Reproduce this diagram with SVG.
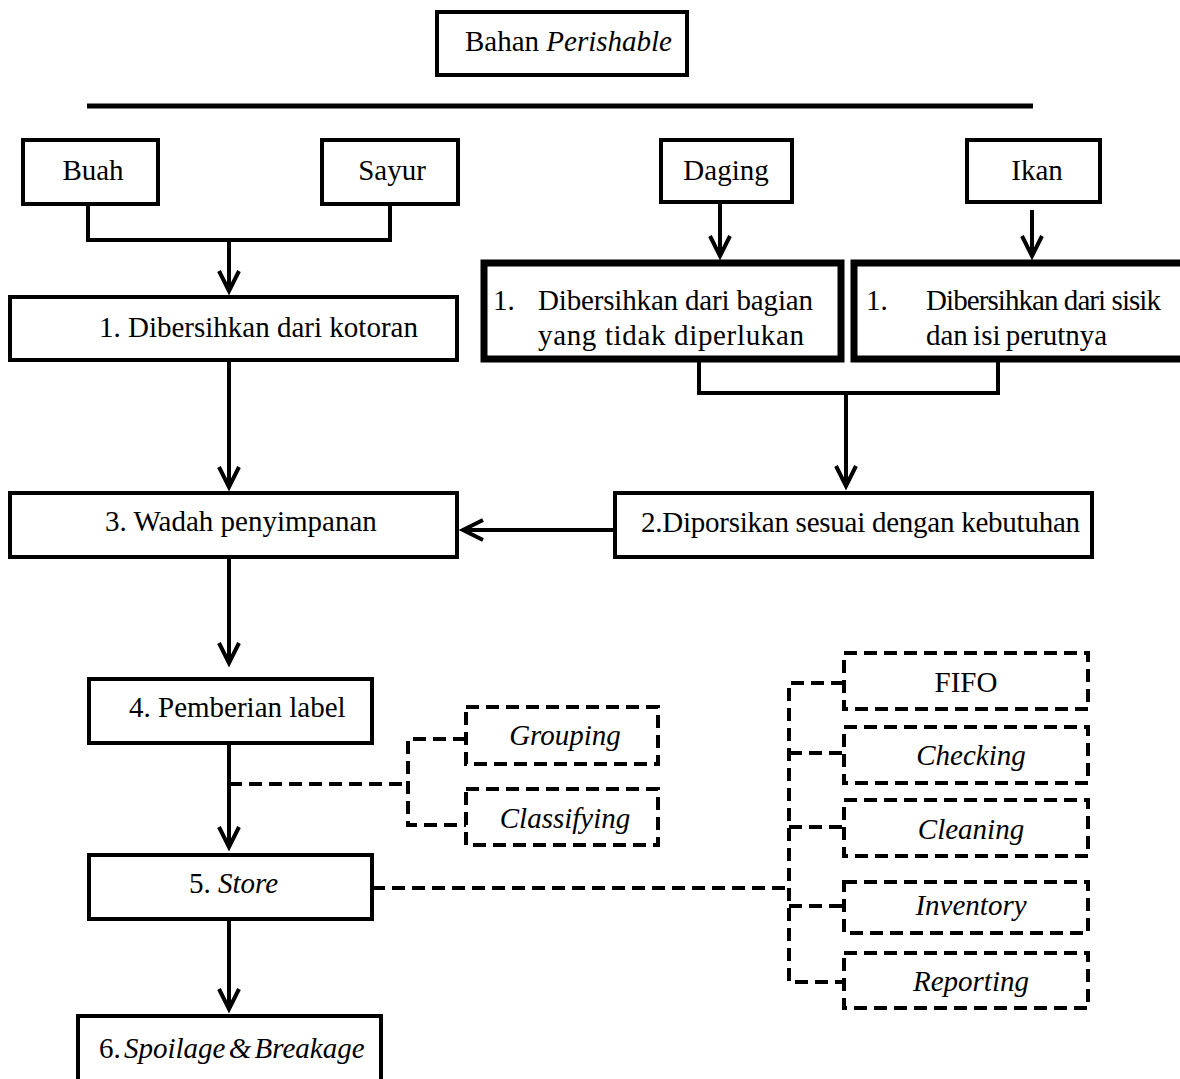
<svg xmlns="http://www.w3.org/2000/svg" width="1180" height="1079" viewBox="0 0 1180 1079">
<style>
text{font-family:"Liberation Serif","Times New Roman",serif;font-size:29px;fill:#000}
.it{font-style:italic}
.c{text-anchor:middle}
.box{fill:#fff;stroke:#000;stroke-width:4}
.thick{fill:#fff;stroke:#000;stroke-width:7}
.dbox{fill:#fff;stroke:#000;stroke-width:4;stroke-dasharray:13 7}
.ln{fill:none;stroke:#000;stroke-width:4}
.dl{fill:none;stroke:#000;stroke-width:4;stroke-dasharray:13 7}
</style>
<defs>
<marker id="ah" markerUnits="userSpaceOnUse" viewBox="-30 -20 40 40" markerWidth="40" markerHeight="40" refX="0" refY="0" orient="auto" overflow="visible">
<path d="M-20,-10 L0,0 L-20,10" fill="none" stroke="#000" stroke-width="4"/>
</marker>
</defs>
<rect width="1180" height="1079" fill="#fff"/>
<g id="connectors">
<line x1="87" y1="106" x2="1033" y2="106" stroke="#000" stroke-width="5"/>
<path class="ln" d="M88,204 V240 H390 V204"/>
<path class="ln" d="M229,240 V291" marker-end="url(#ah)"/>
<path class="ln" d="M229,360 V487" marker-end="url(#ah)"/>
<path class="ln" d="M720,202 V256" marker-end="url(#ah)"/>
<path class="ln" d="M1032,210 V256" marker-end="url(#ah)"/>
<path class="ln" d="M699,359 V393 H998 V359"/>
<path class="ln" d="M846,393 V486" marker-end="url(#ah)"/>
<path class="ln" d="M615,530 H463" marker-end="url(#ah)"/>
<path class="ln" d="M229,543 V663" marker-end="url(#ah)"/>
<path class="ln" d="M229,743 V847" marker-end="url(#ah)"/>
<path class="ln" d="M229,919 V1009" marker-end="url(#ah)"/>
<path class="dl" d="M229,784 H408"/>
<path class="dl" d="M466,739 H408 V825 H466"/>
<path class="dl" d="M372,888 H789"/>
<path class="dl" d="M844,683 H789 V982 H844"/>
<path class="dl" d="M789,753 H844"/>
<path class="dl" d="M789,827 H844"/>
<path class="dl" d="M789,906 H844"/>
</g>
<g id="bahan-perishable"><rect class="box" x="437" y="12" width="250" height="63"/><text x="465" y="51">Bahan <tspan class="it">Perishable</tspan></text></g>
<g id="buah"><rect class="box" x="23" y="140" width="135" height="64"/><text class="c" x="93" y="180">Buah</text></g>
<g id="sayur"><rect class="box" x="322" y="140" width="136" height="64"/><text class="c" x="392" y="180">Sayur</text></g>
<g id="daging"><rect class="box" x="661" y="140" width="131" height="62"/><text class="c" x="726" y="180">Daging</text></g>
<g id="ikan"><rect class="box" x="967" y="140" width="133" height="62"/><text class="c" x="1037" y="180">Ikan</text></g>
<g id="step1-buah-sayur"><rect class="box" x="10" y="297" width="447" height="63"/><text x="99" y="337">1. Dibersihkan dari kotoran</text></g>
<g id="step1-daging"><rect class="thick" x="484" y="263" width="357" height="96"/><text x="493" y="310">1.</text><text x="538" y="310" textLength="275" lengthAdjust="spacing">Dibersihkan dari bagian</text><text x="538" y="345" textLength="266" lengthAdjust="spacing">yang tidak diperlukan</text></g>
<g id="step1-ikan"><rect class="thick" x="854" y="263" width="340" height="96"/><text x="866" y="310">1.</text><text x="926" y="310" textLength="235" lengthAdjust="spacing">Dibersihkan dari sisik</text><text x="926" y="345" style="word-spacing:-2px">dan isi perutnya</text></g>
<g id="step2"><rect class="box" x="615" y="493" width="477" height="64"/><text x="641" y="532" textLength="439" lengthAdjust="spacing">2.Diporsikan sesuai dengan kebutuhan</text></g>
<g id="step3"><rect class="box" x="10" y="493" width="447" height="64"/><text x="105" y="531">3. Wadah penyimpanan</text></g>
<g id="step4"><rect class="box" x="89" y="679" width="283" height="64"/><text x="129" y="717">4. Pemberian label</text></g>
<g id="step5"><rect class="box" x="89" y="855" width="283" height="64"/><text x="189" y="893">5. <tspan class="it">Store</tspan></text></g>
<g id="step6"><rect class="box" x="78" y="1016" width="303" height="100"/><text x="99" y="1058" style="word-spacing:-4px">6. <tspan class="it">Spoilage &amp; Breakage</tspan></text></g>
<g id="grouping"><rect class="dbox" x="466" y="707" width="192" height="57"/><text class="c it" x="565" y="745">Grouping</text></g>
<g id="classifying"><rect class="dbox" x="466" y="789" width="192" height="56"/><text class="c it" x="565" y="828">Classifying</text></g>
<g id="fifo"><rect class="dbox" x="844" y="653" width="244" height="56"/><text class="c" x="966" y="692">FIFO</text></g>
<g id="checking"><rect class="dbox" x="844" y="727" width="244" height="56"/><text class="c it" x="971" y="765">Checking</text></g>
<g id="cleaning"><rect class="dbox" x="844" y="800" width="244" height="56"/><text class="c it" x="971" y="839">Cleaning</text></g>
<g id="inventory"><rect class="dbox" x="844" y="882" width="244" height="51"/><text class="c it" x="971" y="915">Inventory</text></g>
<g id="reporting"><rect class="dbox" x="844" y="953" width="244" height="55"/><text class="c it" x="971" y="991">Reporting</text></g>
</svg>
